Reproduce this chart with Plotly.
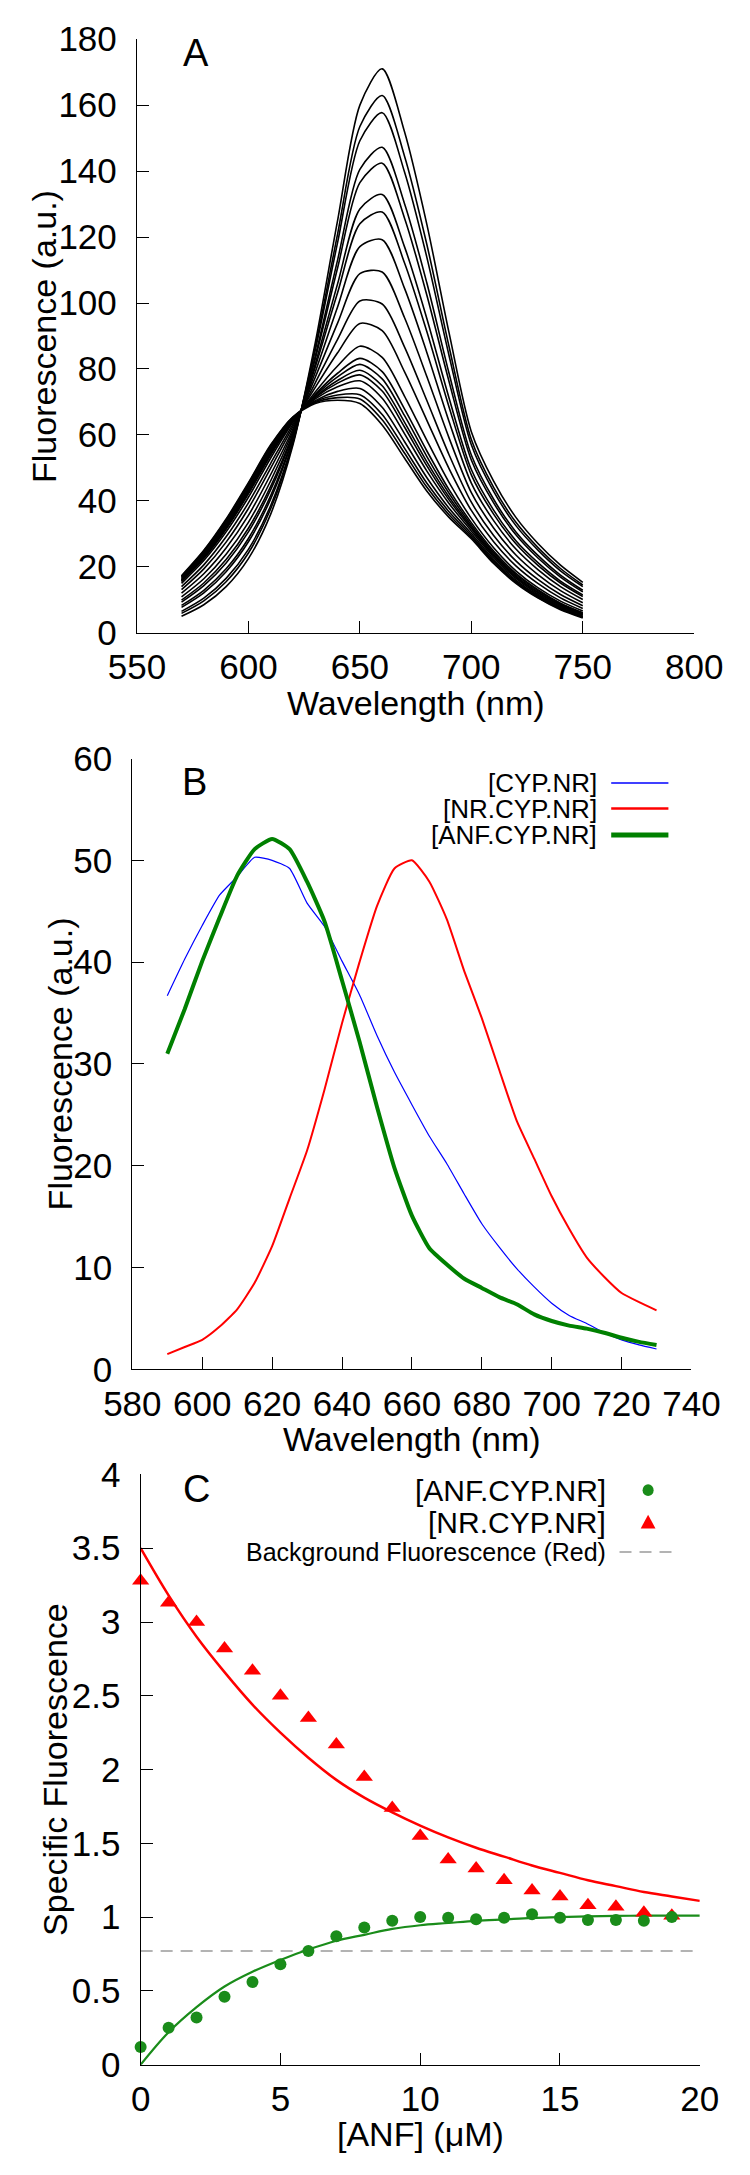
import plotly.graph_objects as go

W, H = 750, 2175
FONT = "Liberation Sans, Arial, sans-serif"

# ---------------- panel A : titration spectra ----------------
wl_a = [570, 580, 590, 600, 610, 620, 630, 640, 650, 660,
        670, 680, 690, 700, 710, 720, 730, 740, 750]

spectra_a = [
    [5.0, 8.5, 14.0, 22.5, 36.0, 57.0, 88.0, 125.0, 160.0, 171.0, 152.0, 124.0, 91.0, 61.0, 46.0, 35.0, 27.0, 20.5, 15.3],
    [5.9, 9.7, 15.5, 24.2, 37.6, 57.6, 86.6, 120.9, 153.5, 162.9, 144.6, 117.9, 86.8, 58.6, 44.1, 33.5, 25.8, 19.5, 14.5],
    [6.5, 10.5, 16.5, 25.3, 38.6, 58.0, 85.7, 118.3, 149.2, 157.7, 139.8, 114.0, 84.1, 57.0, 42.9, 32.5, 25.0, 18.8, 14.0],
    [7.7, 12.1, 18.5, 27.6, 40.6, 58.9, 83.9, 113.0, 140.5, 147.2, 130.2, 106.2, 78.7, 53.9, 40.5, 30.6, 23.4, 17.5, 12.9],
    [8.3, 12.9, 19.4, 28.6, 41.6, 59.3, 83.1, 110.6, 136.5, 142.4, 125.8, 102.5, 76.2, 52.4, 39.4, 29.7, 22.6, 16.9, 12.4],
    [9.3, 14.3, 21.2, 30.6, 43.4, 60.0, 81.5, 105.8, 128.5, 132.9, 117.1, 95.4, 71.2, 49.5, 37.2, 27.9, 21.2, 15.7, 11.5],
    [9.9, 15.1, 22.2, 31.7, 44.4, 60.4, 80.6, 103.1, 124.0, 127.6, 112.2, 91.4, 68.5, 47.9, 36.0, 27.0, 20.4, 15.1, 11.0],
    [10.9, 16.4, 23.8, 33.5, 46.1, 61.1, 79.1, 98.8, 117.1, 119.2, 104.5, 85.1, 64.1, 45.4, 34.0, 25.4, 19.1, 14.0, 10.1],
    [12.0, 17.9, 25.7, 35.6, 48.0, 61.8, 77.5, 93.9, 108.9, 109.4, 95.6, 77.8, 59.1, 42.5, 31.8, 23.6, 17.6, 12.8, 9.1],
    [13.1, 19.4, 27.5, 37.7, 49.9, 62.6, 75.8, 89.0, 100.6, 99.7, 86.7, 70.5, 54.0, 39.6, 29.5, 21.8, 16.1, 11.6, 8.2],
    [14.0, 20.6, 29.1, 39.4, 51.4, 63.3, 74.4, 84.9, 93.8, 91.6, 79.2, 64.5, 49.8, 37.1, 27.6, 20.3, 14.9, 10.6, 7.4],
    [15.0, 21.9, 30.6, 41.1, 53.0, 63.9, 73.0, 80.9, 86.9, 83.5, 71.8, 58.4, 45.6, 34.7, 25.8, 18.8, 13.6, 9.6, 6.6],
    [15.5, 22.5, 31.4, 42.1, 53.9, 64.2, 72.3, 78.7, 83.2, 79.2, 67.9, 55.2, 43.4, 33.4, 24.8, 18.0, 13.0, 9.0, 6.1],
    [15.7, 22.9, 31.8, 42.5, 54.3, 64.4, 71.9, 77.6, 81.4, 77.0, 65.9, 53.5, 42.3, 32.7, 24.3, 17.6, 12.7, 8.8, 5.9],
    [16.0, 23.2, 32.2, 43.0, 54.7, 64.6, 71.5, 76.5, 79.6, 74.9, 63.9, 51.9, 41.2, 32.1, 23.8, 17.2, 12.3, 8.5, 5.7],
    [16.1, 23.4, 32.6, 43.3, 55.0, 64.7, 71.3, 75.7, 78.2, 73.3, 62.4, 50.7, 40.3, 31.6, 23.4, 16.9, 12.1, 8.3, 5.5],
    [16.4, 23.8, 33.0, 43.8, 55.4, 64.9, 70.9, 74.6, 76.4, 71.1, 60.4, 49.1, 39.2, 30.9, 22.9, 16.5, 11.7, 8.0, 5.3],
    [16.7, 24.2, 33.5, 44.3, 55.9, 65.1, 70.4, 73.2, 74.1, 68.4, 58.0, 47.1, 37.8, 30.1, 22.3, 16.0, 11.3, 7.7, 5.0],
    [16.9, 24.5, 33.9, 44.8, 56.4, 65.2, 70.1, 72.1, 72.2, 66.2, 56.0, 45.4, 36.7, 29.5, 21.8, 15.6, 11.0, 7.4, 4.8],
    [17.1, 24.8, 34.2, 45.2, 56.7, 65.4, 69.8, 71.3, 70.9, 64.6, 54.5, 44.2, 35.8, 29.0, 21.4, 15.3, 10.7, 7.2, 4.7],
    [17.3, 25.0, 34.5, 45.5, 57.0, 65.5, 69.5, 70.5, 69.5, 63.0, 53.0, 43.0, 35.0, 28.5, 21.0, 15.0, 10.5, 7.0, 4.5],
]

# ---------------- panel B : reference spectra ----------------
wl_b = [590, 595, 600, 605, 610, 615, 620, 625, 630, 635, 640, 645, 650, 655, 660,
        665, 670, 675, 680, 685, 690, 695, 700, 705, 710, 715, 720, 725, 730]
cyp_nr = [36.7, 40.3, 43.6, 46.6, 48.4, 50.3, 50.0, 49.2, 45.8, 43.5, 40.1, 36.8, 32.8, 29.2, 26.0,
          22.9, 20.2, 17.2, 14.3, 12.0, 9.9, 8.1, 6.5, 5.3, 4.5, 3.6, 2.9, 2.4, 2.0]
nr_cyp_nr = [1.5, 2.2, 2.9, 4.2, 5.9, 8.5, 12.1, 16.8, 21.5, 27.5, 34.0, 40.0, 45.5, 49.2, 50.0,
             47.9, 44.2, 39.1, 34.5, 29.4, 24.4, 20.7, 17.0, 13.8, 11.0, 9.1, 7.5, 6.6, 5.8]
anf_cyp_nr = [31.0, 35.4, 40.1, 44.4, 48.5, 51.1, 52.1, 51.1, 47.9, 44.0, 38.2, 32.2, 25.8, 19.8, 15.1,
              11.9, 10.3, 8.9, 8.0, 7.1, 6.4, 5.4, 4.75, 4.3, 4.0, 3.6, 3.1, 2.7, 2.4]
labels_b = ["[CYP.NR]", "[NR.CYP.NR]", "[ANF.CYP.NR]"]

# ---------------- panel C : specific fluorescence vs [ANF] ----------------
anf_conc = list(range(20))
green_pts = [0.12, 0.25, 0.32, 0.46, 0.56, 0.68, 0.77, 0.87, 0.93, 0.975,
             1.0, 0.995, 0.985, 0.995, 1.02, 0.995, 0.98, 0.98, 0.975, 1.0]
red_pts = [3.28, 3.13, 3.0, 2.82, 2.67, 2.5, 2.35, 2.17, 1.95, 1.74,
           1.55, 1.39, 1.33, 1.25, 1.18, 1.14, 1.08, 1.07, 1.03, 1.01]
fit_x = list(range(21))
green_fit = [0.0, 0.22, 0.39, 0.53, 0.63, 0.71, 0.78, 0.84, 0.88, 0.92, 0.945,
             0.96, 0.975, 0.985, 0.995, 1.0, 1.005, 1.008, 1.01, 1.01, 1.01]
red_fit = [3.5, 3.18, 2.9, 2.66, 2.44, 2.25, 2.08, 1.93, 1.81, 1.71, 1.62,
           1.54, 1.47, 1.41, 1.35, 1.3, 1.25, 1.21, 1.17, 1.14, 1.11]
background = 0.77
labels_c = ["[ANF.CYP.NR]", "[NR.CYP.NR]", "Background Fluorescence (Red)"]

GREEN_B = "#008000"
GREEN_C = "#1a8c1a"


def px(x, y):
    # pixel position -> paper coordinates
    return x / W, 1 - y / H


fig = go.Figure()

for row in spectra_a:
    fig.add_trace(go.Scatter(x=wl_a, y=row, mode="lines", xaxis="x", yaxis="y",
                             line=dict(color="black", width=1.6, shape="spline", smoothing=0.8),
                             showlegend=False, hoverinfo="skip"))

for ys, col, wd in [(cyp_nr, "#0000ff", 1.2), (nr_cyp_nr, "#ff0000", 2.0), (anf_cyp_nr, GREEN_B, 4.0)]:
    fig.add_trace(go.Scatter(x=wl_b, y=ys, mode="lines", xaxis="x2", yaxis="y2",
                             line=dict(color=col, width=wd, shape="spline", smoothing=0.5),
                             showlegend=False))

fig.add_trace(go.Scatter(x=fit_x, y=[background] * len(fit_x), mode="lines", xaxis="x3", yaxis="y3",
                         line=dict(color="#9a9a9a", width=1.5, dash="12px,8px"), showlegend=False))
fig.add_trace(go.Scatter(x=fit_x, y=red_fit, mode="lines", xaxis="x3", yaxis="y3",
                         line=dict(color="#ff0000", width=2.5, shape="spline"), showlegend=False))
fig.add_trace(go.Scatter(x=fit_x, y=green_fit, mode="lines", xaxis="x3", yaxis="y3",
                         line=dict(color=GREEN_C, width=2.2, shape="spline"), showlegend=False))
fig.add_trace(go.Scatter(x=anf_conc, y=red_pts, mode="markers", xaxis="x3", yaxis="y3", cliponaxis=False,
                         marker=dict(symbol="triangle-up", size=15, color="#ff0000"), showlegend=False))
fig.add_trace(go.Scatter(x=anf_conc, y=green_pts, mode="markers", xaxis="x3", yaxis="y3", cliponaxis=False,
                         marker=dict(symbol="circle", size=12, color=GREEN_C), showlegend=False))


def axis(x0, x1, rng, dtick, anchor, horizontal):
    d = dict(range=rng, dtick=dtick, tick0=rng[0], anchor=anchor,
             showline=True, linecolor="black", linewidth=1.3,
             ticks="inside", ticklen=12, tickwidth=1.2, tickcolor="black",
             showgrid=False, zeroline=False, fixedrange=True,
             tickfont=dict(family=FONT, size=35, color="black"),
             ticklabelstandoff=3 if horizontal else 12)
    if horizontal:
        d["domain"] = [x0 / W, x1 / W]
    else:
        d["domain"] = [1 - x1 / H, 1 - x0 / H]
    return d


fig.update_layout(
    width=W, height=H,
    margin=dict(l=0, r=0, t=0, b=0),
    paper_bgcolor="white", plot_bgcolor="white",
    showlegend=False,
    xaxis=axis(117, 721, [550, 800], 50, "y", True),
    yaxis=axis(19.5, 624, [0, 180], 20, "x", False),
    xaxis2=axis(112, 718, [580, 740], 20, "y2", True),
    yaxis2=axis(752, 1374, [0, 60], 10, "x2", False),
    xaxis3=axis(121, 727, [0, 20], 5, "y3", True),
    yaxis3=axis(1481, 2082, [0, 4], 0.5, "x3", False),
)

ann = []


def text(x, y, s, size, anchor="center", angle=0):
    ax, ay = px(x, y)
    ann.append(dict(x=ax, y=ay, xref="paper", yref="paper", text=s, showarrow=False,
                    xanchor=anchor, yanchor="middle", textangle=angle,
                    font=dict(family=FONT, size=size, color="black")))


# panel letters
text(181, 34, "A", 38)
text(179, 776, "B", 38)
text(181, 1496, "C", 38)

# axis titles
text(16, 322, "Fluorescence (a.u.)", 34, angle=-90)
text(419, 695, "Wavelength (nm)", 34)
text(33, 1063, "Fluorescence (a.u.)", 34, angle=-90)
text(415, 1445, "Wavelength (nm)", 34)
text(28, 1781, "Specific Fluorescence", 34, angle=-90)
text(424, 2153, "[ANF] (μM)", 34)

# legend of panel B (text on the left, line sample on the right)
shapes = []
for lab, yy, col, wd in zip(labels_b, [777, 803, 830], ["#0000ff", "#ff0000", GREEN_B], [1.5, 2.5, 5]):
    text(618, yy, lab, 26, anchor="right")
    a0, b0 = px(631, yy)
    a1, b1 = px(693, yy)
    shapes.append(dict(type="line", xref="paper", yref="paper", x0=a0, y0=b0, x1=a1, y1=b1,
                       line=dict(color=col, width=wd)))

# legend of panel C
text(627, 1497, labels_c[0], 30, anchor="right")
text(627, 1530, labels_c[1], 30, anchor="right")
text(627, 1560, labels_c[2], 25, anchor="right")
c0, c1 = px(665, 1491), px(677, 1503)
shapes.append(dict(type="circle", xref="paper", yref="paper", x0=c0[0], y0=c1[1], x1=c1[0], y1=c0[1],
                   fillcolor=GREEN_C, line=dict(width=0)))
p1, p2, p3 = px(671, 1522), px(663, 1536), px(679, 1536)
shapes.append(dict(type="path", xref="paper", yref="paper",
                   path=f"M {p1[0]},{p1[1]} L {p2[0]},{p2[1]} L {p3[0]},{p3[1]} Z",
                   fillcolor="#ff0000", line=dict(width=0)))
d0, d1 = px(640, 1560), px(703, 1560)
shapes.append(dict(type="line", xref="paper", yref="paper", x0=d0[0], y0=d0[1], x1=d1[0], y1=d1[1],
                   line=dict(color="#9a9a9a", width=1.5, dash="12px,8px")))

fig.update_layout(annotations=ann, shapes=shapes)

fig.write_html("out.html", config={"displayModeBar": False},
               post_script="document.body.style.margin='0px';")
